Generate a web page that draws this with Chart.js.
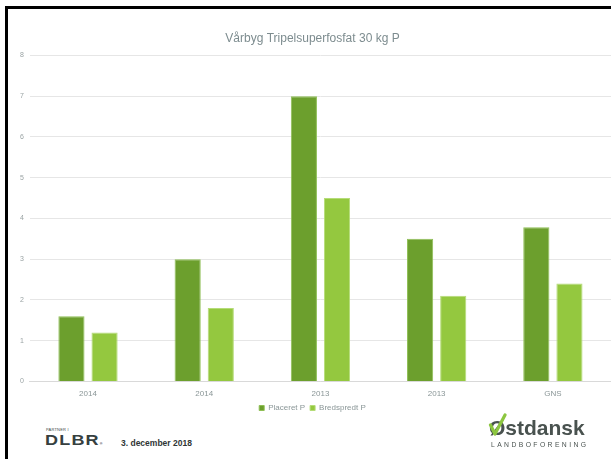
<!DOCTYPE html>
<html>
<head>
<meta charset="utf-8">
<script src="https://cdn.jsdelivr.net/npm/chart.js@4"></script>
<style>
  html, body { margin: 0; padding: 0; background: #fff; width: 611px; height: 459px; overflow: hidden; position: relative; font-family: "Liberation Sans", Arial, sans-serif; }
  #frameL { position: absolute; left: 5px; top: 6px; width: 3px; height: 453px; background: #000; }
  #frameT { position: absolute; left: 5px; top: 6px; width: 606px; height: 3px; background: #000; }
  #wrap { position: absolute; left: 8px; top: 9px; width: 603px; height: 415px; }
  #partner { position: absolute; left: 46px; top: 427px; font-size: 4px; color: #3d4848; letter-spacing: 0.2px; }
  #dlbr { position: absolute; left: 45px; top: 431px; font-size: 15px; font-weight: bold; color: #36403f; letter-spacing: 1px; transform: scaleX(1.2); transform-origin: top left; line-height: 17px; }
  #dlbr sup { font-size: 3px; vertical-align: baseline; letter-spacing: 0; }
  #date { position: absolute; left: 121px; top: 438px; font-size: 8.5px; font-weight: bold; color: #2f3535; }
  #ost { position: absolute; left: 489px; top: 417px; font-size: 21px; font-weight: bold; color: #49524f; letter-spacing: 0px; line-height: 22px; }
  #land { position: absolute; left: 491px; top: 441px; font-size: 6.8px; color: #49524f; letter-spacing: 2.4px; line-height: 8px; }
  #check { position: absolute; left: 488px; top: 413px; }
</style>
</head>
<body>
<div id="frameL"></div>
<div id="frameT"></div>
<div id="wrap"><canvas id="c"></canvas></div>
<div id="partner">PARTNER I</div>
<div id="dlbr">DLBR<sup>&reg;</sup></div>
<div id="date">3. december 2018</div>
<div id="ost">Østdansk</div>
<svg id="check" width="20" height="24" viewBox="0 0 20 24"><path d="M2.5 12 L7 21 L17 2" stroke="#8cc63f" stroke-width="3.2" fill="none" stroke-linejoin="round" stroke-linecap="round"/></svg>
<div id="land">LANDBOFORENING</div>
<script>
const categories = ["2014", "2014", "2013", "2013", "GNS"];
const placeretP = [1.6, 3.0, 7.0, 3.5, 3.78];
const bredspredtP = [1.2, 1.8, 4.5, 2.1, 2.4];
const seriesNames = ["Placeret P", "Bredspredt P"];
const chartTitle = "Vårbyg Tripelsuperfosfat 30 kg P";

new Chart(document.getElementById("c"), {
  type: "bar",
  data: {
    labels: categories,
    datasets: [
      { label: seriesNames[0], data: placeretP, backgroundColor: "#6c9f2d", borderColor: "#8fbf55", borderWidth: 1 },
      { label: seriesNames[1], data: bredspredtP, backgroundColor: "#94c83f", borderColor: "#b5dc78", borderWidth: 1 }
    ]
  },
  options: {
    responsive: true,
    maintainAspectRatio: false,
    animation: false,
    devicePixelRatio: 1,
    layout: { padding: { left: 6, right: 0, top: 22, bottom: 2 } },
    datasets: { bar: { categoryPercentage: 0.57, barPercentage: 0.79 } },
    plugins: {
      title: { display: true, text: chartTitle, color: "#7d8c8f", font: { family: "Liberation Sans", size: 12, weight: "normal" }, padding: { top: 0, bottom: 10 } },
      legend: { position: "bottom", labels: { boxWidth: 5, boxHeight: 5, color: "#8a9697", font: { family: "Liberation Sans", size: 8 }, padding: 5 } },
      tooltip: { enabled: false }
    },
    scales: {
      x: {
        grid: { display: false },
        border: { color: "#d9d9d9" },
        ticks: { color: "#8a9697", font: { family: "Liberation Sans", size: 8 }, padding: 0 }
      },
      y: {
        min: 0, max: 8,
        ticks: { stepSize: 1, color: "#9aa3a4", font: { family: "Liberation Sans", size: 7 }, padding: 6 },
        grid: { color: "#e6e6e6", drawTicks: false },
        border: { display: false }
      }
    }
  }
});
</script>
</body>
</html>
